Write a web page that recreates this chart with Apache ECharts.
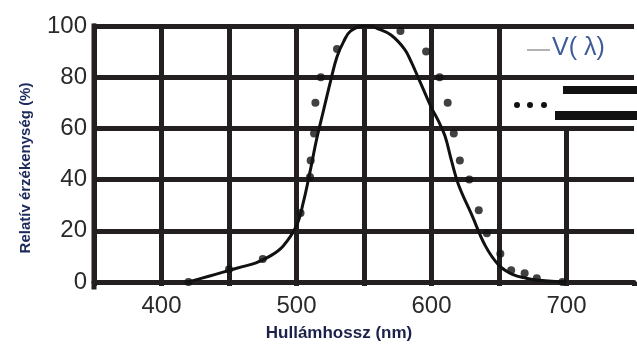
<!DOCTYPE html>
<html>
<head>
<meta charset="utf-8">
<script src="https://cdn.jsdelivr.net/npm/echarts@6/dist/echarts.min.js"></script>
<style>
  html, body { margin: 0; padding: 0; background: #fff; }
  #chart { width: 637px; height: 347px; }
</style>
</head>
<body>
<div id="chart"></div>
<script>
// V(lambda) curve, wavelength (nm) -> relative sensitivity (%)
const curveX = [420, 430, 440, 450, 460, 470, 480, 490, 500, 505, 510, 515, 520, 525, 530, 535, 540, 550, 555, 560, 570, 580, 585, 590, 595, 600, 605, 610, 615, 620, 630, 640, 650, 660, 670, 680, 700]
const curveY = [0, 1.5, 3, 4.5, 6, 7.5, 10, 14, 22, 31, 43, 56, 67, 78, 88, 94, 98, 100, 100, 99, 96.5, 91, 86, 80, 74, 68, 63, 57, 47, 38, 26, 14, 6.5, 3, 1.5, 0.7, 0]

// measured points (dotted series)
const dotX = [420, 450, 475, 503, 510, 510.5, 513, 514, 518, 530, 577, 596, 606, 612, 616.5, 621, 628, 635, 641, 651, 659, 669, 678, 697]
const dotY = [0, 5, 9, 27, 41, 47.5, 58, 70, 80, 91, 98, 90, 80, 70, 58, 47.5, 40, 28, 19, 11, 4.6, 3.4, 1.5, 0]

// vertical grid lines and how high each one goes
const gridX = [400, 450, 500, 550, 600, 650, 700]
const gridTop = [100, 100, 100, 100, 100, 100, 60]

const ink = '#231f20'

const chart = echarts.init(document.getElementById('chart'))

const option = {
  animation: false,
  textStyle: { fontFamily: 'Liberation Sans, Arial, sans-serif' },
  grid: { left: 94, right: -5, top: 26, bottom: 60 },
  xAxis: {
    type: 'value',
    min: 350,
    max: 750,
    interval: 50,
    name: 'Hullámhossz (nm)',
    nameLocation: 'middle',
    nameGap: 43,
    nameTextStyle: { fontSize: 17, fontWeight: 'bold', color: '#1b2148', padding: [0, 50, 0, 0] },
    axisLine: { lineStyle: { color: ink, width: 5 } },
    axisTick: { length: 4, lineStyle: { color: ink, width: 5 } },
    axisLabel: {
      fontSize: 24,
      color: '#2a2a2a',
      margin: 12,
      formatter: v => (v % 100 === 0 && v >= 400 && v <= 700 ? String(v) : '')
    },
    splitLine: { show: false }
  },
  yAxis: {
    type: 'value',
    min: 0,
    max: 100,
    interval: 20,
    name: 'Relatív érzékenység (%)',
    nameLocation: 'middle',
    nameGap: 61,
    nameTextStyle: { fontSize: 15, fontWeight: 'bold', color: '#1c2a5c', padding: [0, 28, 0, 0] },
    axisLine: { show: true, onZero: false, lineStyle: { color: ink, width: 5 } },
    axisTick: { show: false },
    axisLabel: { fontSize: 24, color: '#2a2a2a', margin: 7 },
    splitLine: { lineStyle: { color: ink, width: 5 } }
  },
  series: [
    {
      name: 'V( λ)',
      type: 'line',
      smooth: 0.4,
      showSymbol: false,
      data: curveX.map((x, i) => [x, curveY[i]]),
      lineStyle: { color: '#111', width: 3 },
      z: 3
    },
    {
      name: 'mért',
      type: 'scatter',
      symbolSize: 8,
      clip: false,
      data: dotX.map((x, i) => [x, dotY[i]]),
      itemStyle: { color: '#111' },
      z: 4,
      markLine: {
        silent: true,
        symbol: 'none',
        z: 1,
        label: { show: false },
        lineStyle: { color: ink, width: 5, type: 'solid' },
        data: gridX.map((x, i) => [{ coord: [x, 0] }, { coord: [x, gridTop[i]] }])
      }
    }
  ],
  graphic: [
    // left frame edge of the plot
    { type: 'rect', z: 1, shape: { x: 91.5, y: 23.5, width: 5, height: 266 }, style: { fill: ink } },
    // legend: V(lambda)
    { type: 'line', shape: { x1: 527, y1: 50, x2: 550, y2: 50 }, style: { stroke: '#999', lineWidth: 1.5 } },
    { type: 'text', left: 552, top: 36, style: { text: 'V( λ)', fontSize: 25, fill: '#3d5c9a', fontFamily: 'Liberation Sans, Arial, sans-serif' } },
    // legend: dots
    { type: 'circle', shape: { cx: 517, cy: 105, r: 3 }, style: { fill: '#111' } },
    { type: 'circle', shape: { cx: 530, cy: 105, r: 3 }, style: { fill: '#111' } },
    { type: 'circle', shape: { cx: 544, cy: 105, r: 3 }, style: { fill: '#111' } },
    { type: 'rect', shape: { x: 563, y: 86, width: 80, height: 8 }, style: { fill: '#111' } },
    { type: 'rect', shape: { x: 555, y: 111, width: 90, height: 9 }, style: { fill: '#111' } }
  ]
}

chart.setOption(option)
</script>
</body>
</html>
